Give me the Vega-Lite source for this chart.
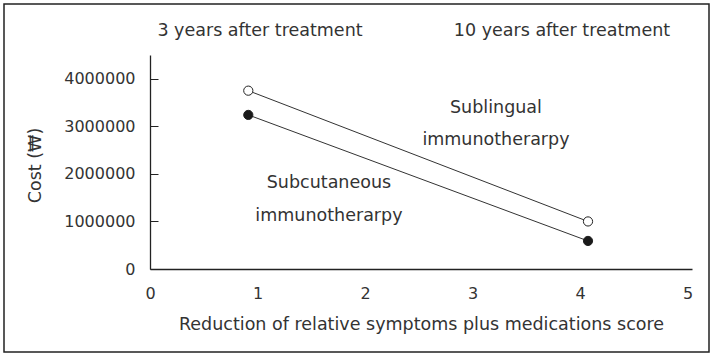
{
  "$schema": "https://vega.github.io/schema/vega-lite/v6.json",
  "width": 705,
  "height": 348,
  "autosize": "none",
  "padding": {"left": 4, "top": 4, "right": 2, "bottom": 4},
  "background": "white",
  "config": {
    "view": {"stroke": "#222222", "strokeWidth": 1.5},
    "font": "DejaVu Sans",
    "axis": {
      "grid": false,
      "domainColor": "#222222",
      "domainWidth": 1.3,
      "tickColor": "#222222",
      "labelColor": "#333333",
      "titleColor": "#333333",
      "labelFont": "DejaVu Sans",
      "titleFont": "DejaVu Sans",
      "titleFontWeight": "normal",
      "labelFlush": false
    }
  },
  "datasets": {
    "points": [
      {"therapy": "Sublingual", "x": 0.914, "y": 3750000},
      {"therapy": "Sublingual", "x": 4.073, "y": 1000000},
      {"therapy": "Subcutaneous", "x": 0.914, "y": 3240000},
      {"therapy": "Subcutaneous", "x": 4.073, "y": 590000}
    ],
    "notes": [
      {"label": "3 years after treatment", "x": 1.023, "y": 5004000},
      {"label": "10 years after treatment", "x": 3.831, "y": 5004000},
      {"label": "Sublingual", "x": 3.217, "y": 3385000},
      {"label": "immunotherarpy", "x": 3.217, "y": 2712000},
      {"label": "Subcutaneous", "x": 1.664, "y": 1808000},
      {"label": "immunotherarpy", "x": 1.664, "y": 1125000}
    ]
  },
  "encoding": {
    "x": {
      "field": "x",
      "type": "quantitative",
      "scale": {"domain": [0, 5.04], "range": [146, 688], "nice": false, "zero": false},
      "axis": {
        "orient": "bottom",
        "offset": -83,
        "ticks": false,
        "values": [0, 1, 2, 3, 4, 5],
        "format": "d",
        "labelPadding": 16,
        "labelFontSize": 16,
        "title": "Reduction of relative symptoms plus medications score",
        "titleFontSize": 17.5,
        "titlePadding": 14
      }
    },
    "y": {
      "field": "y",
      "type": "quantitative",
      "scale": {"domain": [0, 4500000], "range": [265, 51], "nice": false, "zero": false},
      "axis": {
        "orient": "left",
        "offset": -146,
        "values": [0, 1000000, 2000000, 3000000, 4000000],
        "format": "d",
        "tickSize": -8,
        "labelPadding": 23,
        "labelFontSize": 16,
        "title": "Cost (₩)",
        "titleFontSize": 17.5,
        "titleAngle": 270,
        "titleAlign": "center",
        "titleBaseline": "middle",
        "titleX": -115,
        "titleY": 161
      }
    }
  },
  "layer": [
    {
      "data": {"name": "points"},
      "mark": {"type": "line", "color": "#333333", "strokeWidth": 1},
      "encoding": {"detail": {"field": "therapy"}}
    },
    {
      "data": {"name": "points"},
      "mark": {"type": "point", "shape": "circle", "filled": true, "size": 85, "stroke": "#222222", "strokeWidth": 1, "opacity": 1},
      "encoding": {
        "fill": {
          "field": "therapy",
          "type": "nominal",
          "scale": {"domain": ["Sublingual", "Subcutaneous"], "range": ["white", "#1a1a1a"]},
          "legend": null
        }
      }
    },
    {
      "data": {"name": "notes"},
      "mark": {"type": "text", "fontSize": 17.5, "color": "#333333", "baseline": "middle", "align": "center"},
      "encoding": {"text": {"field": "label"}}
    }
  ]
}
